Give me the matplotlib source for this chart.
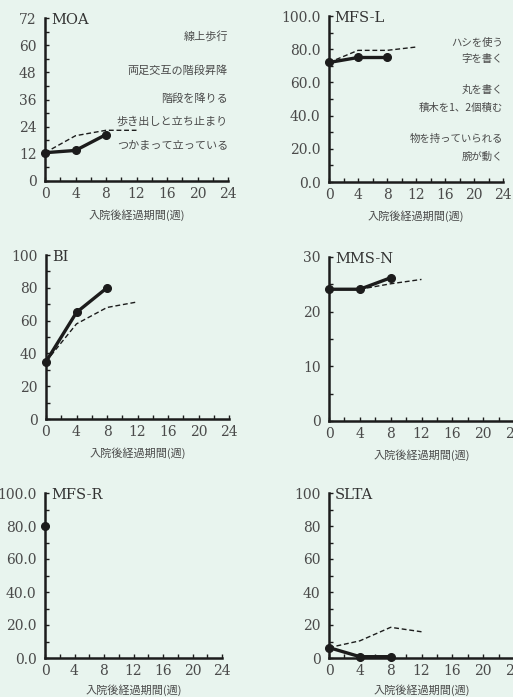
import matplotlib
matplotlib.use("Agg")
from matplotlib import pyplot as plt
from matplotlib.ticker import MultipleLocator, FormatStrFormatter

# 週
weeks_obs = [0, 4, 8]
weeks_ref = [0, 4, 8, 12]

moa_obs = [12.5, 13.5, 20.5]
moa_ref = [12.5, 20, 22.4, 22.4]
moa_levels = ["線上歩行", "両足交互の階段昇降", "階段を降りる", "歩き出しと立ち止まり", "つかまって立っている"]
moa_level_y = [63.6, 49, 36.2, 26.5, 15.9]

mfsl_obs = [72, 75, 75]
mfsl_ref = [72, 79.3, 79.3, 81.3]
mfsl_levels = ["ハシを使う", "字を書く", "丸を書く", "積木を1、2個積む", "物を持っていられる", "腕が動く"]
mfsl_level_y = [83.9, 73.8, 55.3, 44.5, 26.2, 15.4]

bi_obs = [35, 65, 80]
bi_ref = [35, 58, 68, 71.4]

mmsn_obs = [24.1, 24.1, 26.2]
mmsn_ref = [24.1, 24.1, 25.1, 25.9]

mfsr_obs = [80]
mfsr_weeks = [0]

slta_obs = [6.3, 0.8, 0.8]
slta_ref = [6.3, 10.4, 18.6, 15.9]

xlabel = "入院後経過期間(週)"
BG = "#e8f4ee"
INK = "#1c1c1c"
GRAY = "#4a4a4a"
JP = ["Noto Sans CJK JP", "DejaVu Sans"]
SERIF = "DejaVu Serif"

W, H = 513, 697
fig = plt.figure(figsize=(W / 100, H / 100), dpi=100, facecolor=BG)


def make_ax(left, right, top, bottom):
    return fig.add_axes([left / W, 1 - bottom / H, (right - left) / W, (bottom - top) / H])


def style(ax, ymax, ymajor, fmt, title, lpad=6):
    ax.set_facecolor("none")
    ax.set_xlim(0, 24)
    ax.set_ylim(0, ymax)
    for s in ["top", "right"]:
        ax.spines[s].set_visible(False)
    for s in ["left", "bottom"]:
        ax.spines[s].set_linewidth(1.8)
        ax.spines[s].set_color(INK)
    ax.xaxis.set_major_locator(MultipleLocator(4))
    ax.xaxis.set_minor_locator(MultipleLocator(2))
    ax.yaxis.set_major_locator(MultipleLocator(ymajor))
    ax.yaxis.set_minor_locator(MultipleLocator(ymajor / 2))
    ax.yaxis.set_major_formatter(FormatStrFormatter(fmt))
    ax.tick_params(which="both", direction="in", length=3, width=1, color=INK,
                   labelsize=10, labelcolor=GRAY)
    ax.tick_params(axis="x", pad=4)
    ax.tick_params(axis="y", pad=6)
    for lab in ax.get_xticklabels() + ax.get_yticklabels():
        lab.set_fontfamily(SERIF)
    ax.text(0.8, ymax * 0.985, title, fontsize=10.5, family=SERIF, color="#333333",
            ha="left", va="center")
    ax.set_xlabel(xlabel, family=JP, fontsize=8, color=GRAY, labelpad=lpad)


def draw(ax, obs_x, obs, ref):
    if ref is not None:
        ax.plot(weeks_ref, ref, color=INK, lw=1.0, ls=(0, (3.5, 2)), clip_on=False)
    ax.plot(obs_x, obs, color=INK, lw=2.4, marker="o", ms=5.5, clip_on=False, zorder=5)


ax1 = make_ax(45, 228, 18, 181)
style(ax1, 72, 12, "%d", "MOA")
draw(ax1, weeks_obs, moa_obs, moa_ref)
for t, y in zip(moa_levels, moa_level_y):
    ax1.text(24, y, t, family=JP, fontsize=8, color=GRAY, ha="right", va="center")

ax2 = make_ax(329, 503, 16, 182)
style(ax2, 100, 20, "%.1f", "MFS-L")
draw(ax2, weeks_obs, mfsl_obs, mfsl_ref)
for t, y in zip(mfsl_levels, mfsl_level_y):
    ax2.text(24, y, t, family=JP, fontsize=7.5, color=GRAY, ha="right", va="center")

ax3 = make_ax(46, 229, 255, 419)
style(ax3, 100, 20, "%d", "BI", lpad=6)
draw(ax3, weeks_obs, bi_obs, bi_ref)

ax4 = make_ax(329, 514, 257, 421)
style(ax4, 30, 10, "%d", "MMS-N", lpad=6)
draw(ax4, weeks_obs, mmsn_obs, mmsn_ref)

ax5 = make_ax(45, 222, 493, 658)
style(ax5, 100, 20, "%.1f", "MFS-R", lpad=5)
draw(ax5, mfsr_weeks, mfsr_obs, None)

ax6 = make_ax(329, 514, 493, 658)
style(ax6, 100, 20, "%d", "SLTA", lpad=5)
draw(ax6, weeks_obs, slta_obs, slta_ref)

fig.savefig("out.png", dpi=100, facecolor=BG)
